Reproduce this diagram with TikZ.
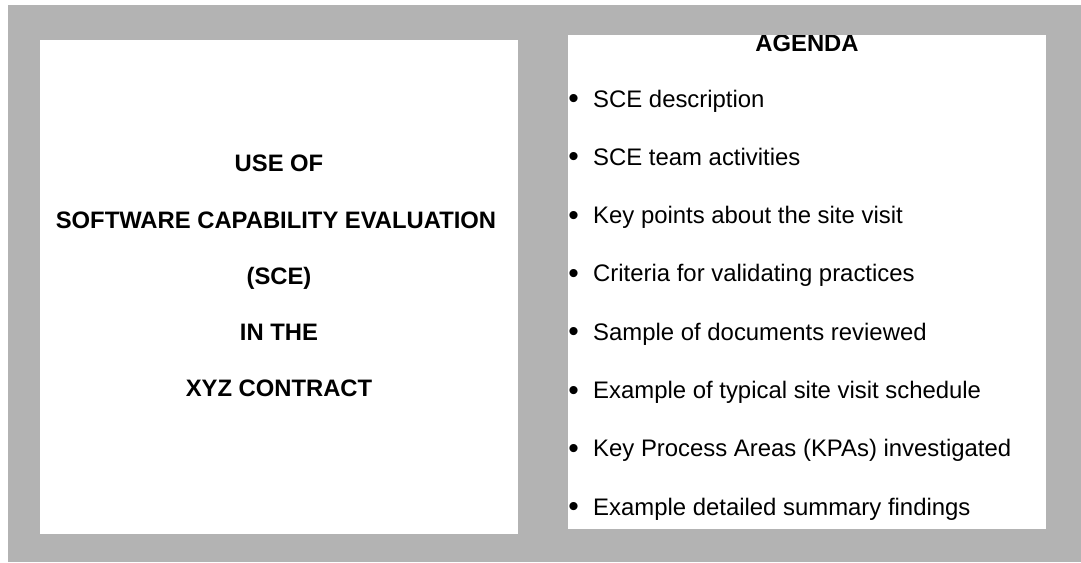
\documentclass[tikz,border=0pt]{standalone}
\usepackage{fontspec}
\setmainfont{Liberation Sans}
\definecolor{framegray}{HTML}{B3B3B3}
\begin{document}
\begin{tikzpicture}[x=1pt,y=-1pt,
  titletext/.style={anchor=base,inner sep=0pt,font=\fontsize{23.8}{28}\selectfont\bfseries},
  itemtext/.style={anchor=base west,inner sep=0pt,font=\fontsize{23.9}{28}\selectfont},
  bulletmark/.style={anchor=base,inner sep=0pt,font=\fontsize{30}{32}\selectfont},
  panel/.style={fill=white,draw=none}]
\useasboundingbox (0,0) rectangle (1081,562);
\fill[white] (0,0) rectangle (1081,562);
\fill[framegray] (8,5) rectangle (1081,562);
\fill[panel] (40,40) rectangle (518,534);
\fill[panel] (568,35) rectangle (1046,529);
% left title
\node[titletext] (t1) at (279,171.7) {USE OF};
\node[titletext] (t2) at (276,228) {SOFTWARE CAPABILITY EVALUATION};
\node[titletext] (t3) at (279,284) {(SCE)};
\node[titletext] (t4) at (279,340) {IN THE};
\node[titletext] (t5) at (279,396) {XYZ CONTRACT};
% right agenda
\begin{scope}
\clip (568,35) rectangle (1046,529);
\node[titletext,font=\fontsize{23.8}{28}\selectfont\bfseries] (ag) at (807,51.5) {AGENDA};
\end{scope}
\foreach \y/\txt [count=\i] in {107/SCE description,
  165.3/SCE team activities,
  223.6/Key points about the site visit,
  281.9/Criteria for validating practices,
  340.2/Sample of documents reviewed,
  398.5/Example of typical site visit schedule,
  456.8/Key Process Areas (KPAs) investigated,
  515.1/Example detailed summary findings}{
  \node[bulletmark] (b\i) at (573.5,\y+1.5) {•};
  \node[itemtext] (i\i) at (593,\y) {\txt};
}
\end{tikzpicture}
\end{document}
